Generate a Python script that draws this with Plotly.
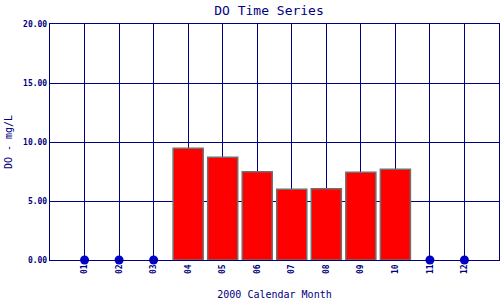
import plotly.graph_objects as go

months = ["01", "02", "03", "04", "05", "06", "07", "08", "09", "10", "11", "12"]
month_num = [1, 2, 3, 4, 5, 6, 7, 8, 9, 10, 11, 12]
do_values = [0, 0, 0, 9.47, 8.70, 7.48, 5.99, 6.04, 7.43, 7.69, 0, 0]
y_ticks = [0, 5, 10, 15, 20]
y_tick_labels = ["0.00", "5.00", "10.00", "15.00", "20.00"]

NAVY = "#000080"
FONT = "DejaVu Sans Mono"

bar_x = [m for m, v in zip(month_num, do_values) if v > 0]
bar_y = [v for v in do_values if v > 0]
dot_x = [m for m, v in zip(month_num, do_values) if v == 0]
dot_y = [v for v in do_values if v == 0]

fig = go.Figure()
fig.add_trace(go.Bar(
    x=bar_x, y=bar_y, width=0.87,
    marker=dict(color="#FF0000", line=dict(color="#707070", width=1.5)),
    showlegend=False, hoverinfo="skip",
))
fig.add_trace(go.Scatter(
    x=dot_x, y=dot_y, mode="markers",
    marker=dict(color="#0000CC", size=9),
    cliponaxis=False, showlegend=False, hoverinfo="skip",
))

fig.update_layout(
    width=500, height=300,
    margin=dict(l=50, r=1, t=24, b=40),
    paper_bgcolor="white", plot_bgcolor="white",
    title=dict(text="DO Time Series", x=0.538, xanchor="center", y=0.965, yanchor="middle",
               font=dict(family=FONT, size=13, color=NAVY)),
    font=dict(family=FONT, color=NAVY),
)
fig.update_xaxes(
    range=[0, 13], tickvals=month_num, ticktext=months, tickangle=-90,
    tickfont=dict(family=FONT, size=8, color=NAVY, weight="bold"),
    showgrid=True, gridcolor=NAVY, gridwidth=1.4,
    showline=True, linecolor=NAVY, linewidth=1.4, mirror=True,
    ticks="", zeroline=False,
    title=dict(text="2000 Calendar Month", font=dict(family=FONT, size=10, color=NAVY), standoff=18),
)
fig.update_yaxes(
    range=[0, 20], tickvals=y_ticks, ticktext=y_tick_labels,
    tickfont=dict(family=FONT, size=8, color=NAVY, weight="bold"),
    showgrid=True, gridcolor=NAVY, gridwidth=1.4,
    showline=True, linecolor=NAVY, linewidth=1.4, mirror=True,
    ticks="", zeroline=False,
    title=dict(text="DO - mg/L", font=dict(family=FONT, size=10, color=NAVY), standoff=8),
)

fig.write_html("out.html")
